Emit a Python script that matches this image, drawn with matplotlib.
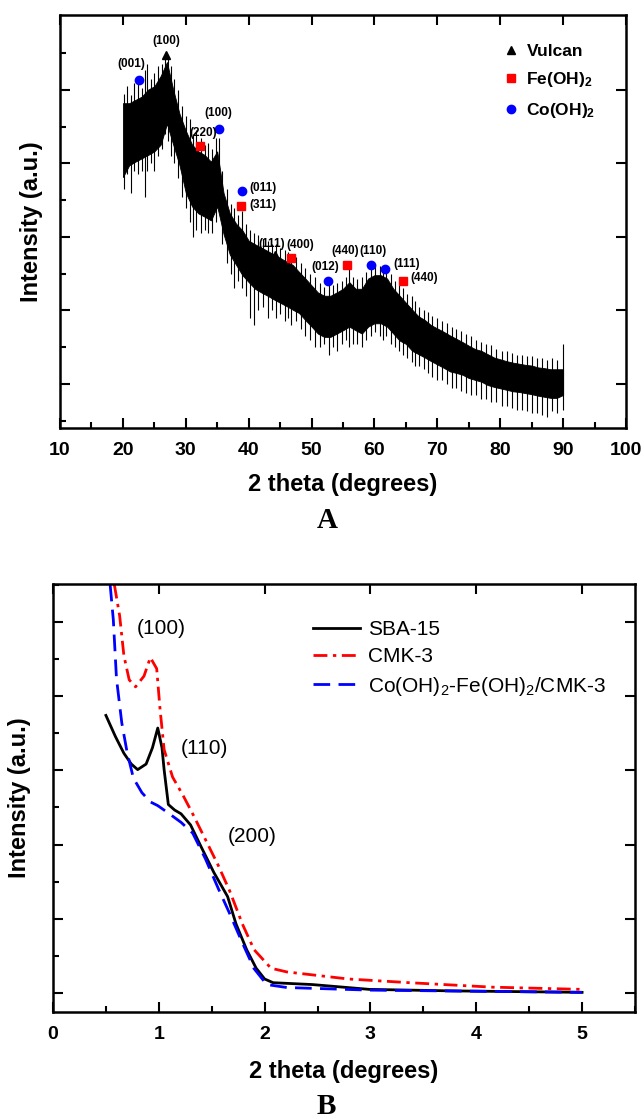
import numpy as np
import matplotlib.pyplot as plt
from matplotlib.ticker import MultipleLocator

plt.rcParams['font.family'] = ['Liberation Sans', 'DejaVu Sans']
plt.rcParams['mathtext.default'] = 'regular'

# %%
# Panel A: wide-angle XRD of the composite (arbitrary intensity units)

# noisy trace read as a core band (1 degree steps) plus the visible spikes
xrd_theta = list(range(20, 91))
xrd_hi = [884, 884, 893, 902, 921, 930, 958, 996, 921, 855,
          809, 771, 753, 743, 725, 753, 640, 584, 556, 538,
          510, 500, 491, 482, 472, 463, 453, 444, 425, 407,
          388, 369, 360, 360, 369, 379, 397, 379, 379, 407,
          416, 416, 407, 379, 360, 341, 322, 304, 294, 280,
          271, 262, 252, 243, 234, 224, 215, 210, 201, 192,
          187, 182, 178, 175, 172, 170, 165, 163, 160, 160, 160]
xrd_lo = [683, 715, 725, 734, 743, 753, 771, 828, 771, 715,
          640, 603, 584, 575, 565, 603, 528, 472, 444, 416,
          397, 379, 369, 360, 350, 341, 332, 322, 313, 294,
          276, 257, 248, 248, 257, 266, 276, 266, 257, 276,
          285, 285, 276, 257, 238, 229, 210, 201, 192, 182,
          173, 164, 154, 150, 145, 136, 131, 126, 117, 112,
          108, 104, 100, 98, 95, 92, 88, 85, 82, 82, 90]

spike_theta = [20.1, 20.6, 21.3, 21.8, 22.4, 23.0, 23.5, 23.9, 24.4, 25.0,
               25.6, 26.2, 26.7, 27.1, 27.6, 28.2, 28.8, 29.4, 30.0, 30.6,
               31.1, 31.7, 32.4, 33.0, 33.6, 34.2, 34.8, 35.3, 35.8, 36.5,
               37.2, 37.6, 38.3, 38.9, 39.5, 40.2, 40.8, 41.5, 42.3, 43.0,
               43.7, 44.3, 45.0, 45.7, 46.3, 46.8, 47.5, 48.3, 49.0, 49.8,
               50.5, 51.3, 52.0, 52.7, 53.4, 54.1, 54.8, 55.4, 55.9, 56.6,
               57.3, 58.0, 58.7, 59.4, 60.1, 60.8, 61.4, 61.9, 62.6, 63.2,
               63.9, 64.6, 65.2, 65.9, 66.4, 67.1, 67.8, 68.5, 69.2, 70.0,
               70.7, 71.5, 72.3, 73.0, 73.8, 74.6, 75.4, 76.2, 77.0, 77.8,
               78.6, 79.4, 80.2, 81.0, 81.8, 82.6, 83.4, 84.2, 85.0, 85.8,
               86.6, 87.4, 88.2, 89.0, 89.9]
spike_lo = [650, 690, 640, 700, 690, 700, 630, 700, 720, 700,
            740, 760, 800, 780, 740, 720, 680, 630, 600, 560,
            520, 540, 530, 540, 530, 530, 560, 590, 500, 450,
            420, 380, 400, 380, 360, 300, 280, 320, 330, 300,
            320, 300, 310, 290, 300, 280, 290, 270, 250, 240,
            220, 220, 230, 200, 220, 210, 230, 240, 220, 230,
            230, 220, 240, 250, 260, 250, 240, 250, 230, 220,
            210, 200, 190, 180, 170, 170, 160, 150, 140, 130,
            130, 120, 110, 110, 100, 95, 90, 90, 80, 80,
            70, 70, 60, 60, 55, 50, 50, 45, 40, 40,
            35, 30, 45, 40, 50]
spike_hi = [910, 930, 905, 940, 935, 925, 975, 990, 950, 965,
            985, 990, 1010, 1005, 985, 950, 920, 875, 850, 840,
            800, 810, 790, 770, 775, 760, 790, 790, 700, 650,
            610, 600, 580, 590, 555, 540, 530, 525, 515, 510,
            500, 500, 490, 485, 480, 470, 465, 450, 435, 420,
            410, 395, 385, 400, 390, 395, 400, 410, 440, 410,
            405, 410, 425, 440, 445, 440, 440, 440, 420, 400,
            390, 380, 365, 360, 345, 330, 320, 315, 305, 300,
            290, 285, 275, 270, 265, 255, 250, 240, 235, 230,
            225, 215, 210, 210, 205, 200, 200, 195, 195, 190,
            190, 185, 190, 185, 230]

vulcan_theta = [26.9, 44.2]
vulcan_int = [1016, 470]
feoh_theta = [32.3, 38.8, 46.7, 55.7, 64.5]
feoh_int = [767, 603, 463, 444, 400]
cooh_theta = [22.6, 35.2, 38.9, 52.6, 59.4, 61.7]
cooh_int = [946, 815, 645, 400, 444, 433]

hkl_labels = ['(100)', '(001)', '(100)', '(220)', '(011)', '(311)', '(111)',
              '(400)', '(012)', '(440)', '(110)', '(111)', '(440)']
hkl_x = [26.9, 21.4, 35.1, 32.7, 42.2, 42.2, 43.7, 48.2, 52.2, 55.3, 59.8, 65.1, 67.9]
hkl_y = [1052, 991, 856, 803, 652, 608, 502, 498, 437, 481, 481, 446, 407]

# %%
# Panel B: low-angle XRD

sba_theta = [0.50, 0.59, 0.67, 0.74, 0.80, 0.88, 0.94, 0.99, 1.03, 1.05, 1.09,
             1.15, 1.21, 1.30, 1.40, 1.52, 1.65, 1.73, 1.83, 1.92, 2.00, 2.08,
             2.45, 2.99, 3.76, 5.00]
sba_int = [748, 691, 646, 617, 602, 617, 661, 714, 661, 602, 508,
           493, 483, 453, 394, 325, 260, 186, 117, 67, 38, 28,
           23, 10, 6, 2]
cmk_theta = [0.58, 0.63, 0.67, 0.72, 0.78, 0.86, 0.92, 0.98, 1.01, 1.05, 1.13,
             1.23, 1.32, 1.44, 1.56, 1.67, 1.79, 1.90, 2.06, 2.21, 2.79, 3.37,
             4.15, 5.00]
cmk_int = [1100, 1016, 909, 844, 825, 854, 904, 874, 770, 656, 582,
           532, 483, 414, 345, 275, 186, 117, 67, 57, 38, 28,
           16, 10]
cofe_theta = [0.54, 0.57, 0.60, 0.65, 0.70, 0.76, 0.84, 0.92, 0.99, 1.09, 1.21,
              1.32, 1.44, 1.56, 1.67, 1.79, 1.90, 2.02, 2.21, 2.99, 5.00]
cofe_int = [1100, 1006, 847, 728, 649, 579, 540, 515, 505, 485, 460,
            431, 362, 283, 214, 135, 66, 23, 15, 8, 2]

b_labels = ['(100)', '(110)', '(200)']
b_x = [1.02, 1.43, 1.88]
b_y = [983, 658, 423]

# %%
fig = plt.figure(figsize=(6.44, 11.19), dpi=100)


def style_axes(ax):
    for sp in ax.spines.values():
        sp.set_linewidth(1.8)
    ax.tick_params(which='both', direction='in', width=1.5, labelleft=False)
    ax.tick_params(which='major', length=7.5, top=True, right=True)
    ax.tick_params(which='minor', length=4, top=False, right=False)
    for t in ax.get_xticklabels():
        t.set_fontweight('bold')
        t.set_fontsize(14)
    ax.tick_params(axis='x', pad=10)


axA = fig.add_axes([0.0932, 0.6175, 0.8789, 0.3691])
axA.fill_between(xrd_theta, xrd_lo, xrd_hi, color='black', lw=0.6)
axA.vlines(spike_theta, spike_lo, spike_hi, color='black', lw=0.8)
axA.plot(vulcan_theta, vulcan_int, ls='none', marker='^', color='black', ms=6, label='Vulcan')
axA.plot(feoh_theta, feoh_int, ls='none', marker='s', color='red', ms=5.5, label='Fe(OH)$_2$')
axA.plot(cooh_theta, cooh_int, ls='none', marker='o', color='blue', ms=6, label='Co(OH)$_2$')
for lab, x, y in zip(hkl_labels, hkl_x, hkl_y):
    axA.text(x, y, lab, ha='center', va='center', fontsize=8.5, fontweight='bold')
axA.set_xlim(10, 100)
axA.set_ylim(0, 1124)
axA.set_xticks(range(10, 101, 10))
axA.xaxis.set_minor_locator(MultipleLocator(5))
axA.set_yticks([120, 320, 520, 720, 920])
axA.set_yticks([20, 220, 420, 620, 820, 1020], minor=True)
style_axes(axA)
axA.set_xlabel('2 theta (degrees)', fontsize=17, fontweight='bold', labelpad=10)
axA.set_ylabel('Intensity (a.u.)', fontsize=17, fontweight='bold', labelpad=12)
axA.legend(loc='upper left', bbox_to_anchor=(0.781, 0.93), frameon=False,
           handlelength=1.0, handletextpad=0.4, labelspacing=0.65,
           borderaxespad=0, borderpad=0, prop={'weight': 'bold', 'size': 12.5})

axB = fig.add_axes([0.0823, 0.0956, 0.9037, 0.3825])
axB.plot(sba_theta, sba_int, color='black', lw=2, label='SBA-15')
axB.plot(cmk_theta, cmk_int, color='red', lw=2, ls=(0, (5, 2, 1.2, 2)), label='CMK-3')
axB.plot(cofe_theta, cofe_int, color='blue', lw=2, ls=(0, (6, 3)),
         label='Co(OH)$_2$-Fe(OH)$_2$/CMK-3')
for lab, x, y in zip(b_labels, b_x, b_y):
    axB.text(x, y, lab, ha='center', va='center', fontsize=15)
axB.set_xlim(0, 5.5)
axB.set_ylim(-51, 1102)
axB.set_xticks(range(0, 6))
axB.xaxis.set_minor_locator(MultipleLocator(0.5))
axB.set_yticks(range(0, 1001, 200))
axB.set_yticks(range(100, 1101, 200), minor=True)
style_axes(axB)
axB.set_xlabel('2 theta (degrees)', fontsize=17, fontweight='bold', labelpad=12)
axB.set_ylabel('Intensity (a.u.)', fontsize=17, fontweight='bold', labelpad=16)
axB.legend(loc='upper left', bbox_to_anchor=(0.447, 0.916), frameon=False,
           handlelength=2.26, handletextpad=0.38, labelspacing=0.4,
           borderaxespad=0, borderpad=0, fontsize=15)

fig.text(327 / 644, 1 - 520 / 1119, 'A', family='Liberation Serif', fontweight='bold',
         fontsize=21, ha='center', va='center')
fig.text(326 / 644, 1 - 1106 / 1119, 'B', family='Liberation Serif', fontweight='bold',
         fontsize=21, ha='center', va='center')

fig.savefig('out.png', dpi=100)
